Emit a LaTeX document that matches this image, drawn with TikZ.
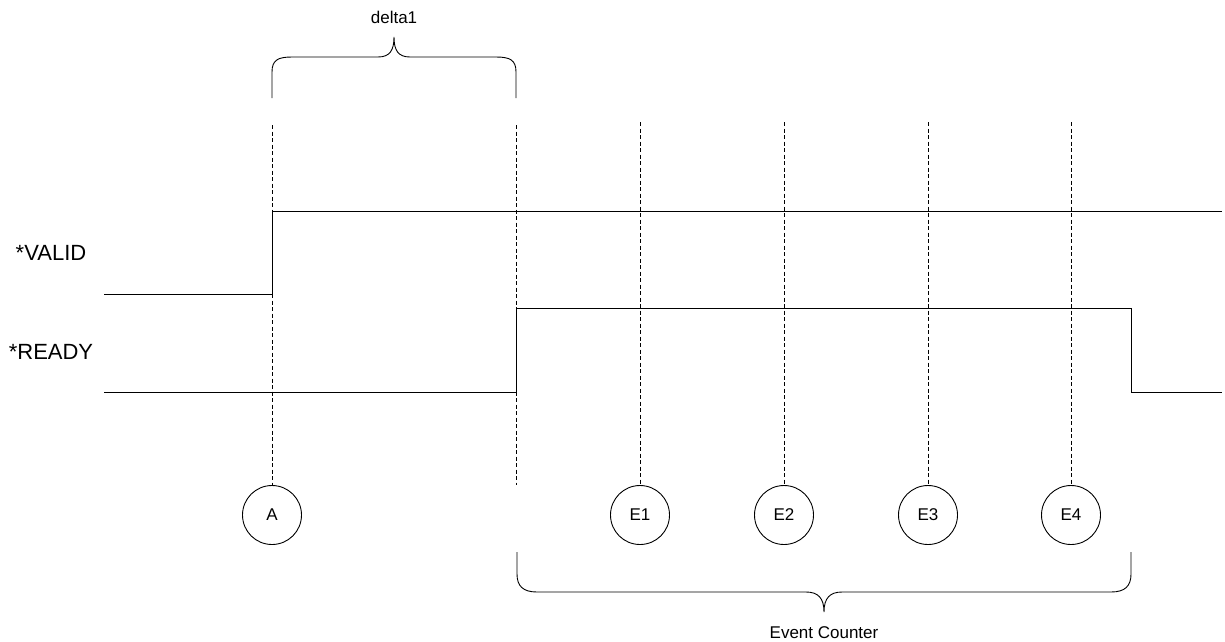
\documentclass[tikz,border=0pt]{standalone}
\usepackage{fontspec}
\setmainfont{Liberation Sans}

\begin{document}
\begin{tikzpicture}[x=1pt, y=-1pt, line width=0.9pt,
  event/.style={draw, circle, minimum size=59pt, inner sep=0pt, font=\fontsize{17}{20}\selectfont},
  sig/.style={font=\fontsize{22}{26}\selectfont},
  lbl/.style={font=\fontsize{17}{20}\selectfont},
  tick/.style={line width=0.8pt, dash pattern=on 4pt off 2.5pt}]
\useasboundingbox (0,0) rectangle (1225,641);

\node[sig] (valid) at (51,253) {*VALID};
\node[sig] (ready) at (51,352) {*READY};

\draw (104,294) -- (272,294) -- (272,211) -- (1222,211);
\draw (104,392) -- (516,392) -- (516,308) -- (1131,308) -- (1131,392) -- (1222,392);

\node[event] (A) at (272,515) {A};
\node[event] (E1) at (640,515) {E1};
\node[event] (E2) at (784,515) {E2};
\node[event] (E3) at (928,515) {E3};
\node[event] (E4) at (1071,515) {E4};

\coordinate (tA) at (272,125);
\coordinate (tR) at (516,125);
\coordinate (bR) at (516,485);
\coordinate (t1) at (640,122);
\coordinate (t2) at (784,122);
\coordinate (t3) at (928,122);
\coordinate (t4) at (1071,122);
\draw[tick] (tA) -- (A);
\draw[tick] (tR) -- (bR);
\draw[tick] (t1) -- (E1);
\draw[tick] (t2) -- (E2);
\draw[tick] (t3) -- (E3);
\draw[tick] (t4) -- (E4);

\draw (272,98) -- (272,72) .. controls (272,60) and (278,57) .. (292,57) -- (378,57) .. controls (390,57) and (394,50) .. (394,37) .. controls (394,50) and (398,57) .. (410,57) -- (496,57) .. controls (510,57) and (516,60) .. (516,72) -- (516,98);
\node[lbl] (delta) at (394,17) {delta1};

\draw (517,552) -- (517,574) .. controls (517,586) and (523,592) .. (537,592) -- (806,592) .. controls (818,592) and (824,598) .. (824,612) .. controls (824,598) and (830,592) .. (842,592) -- (1111,592) .. controls (1125,592) and (1131,586) .. (1131,574) -- (1131,552);
\node[lbl] (count) at (824,633) {Event Counter};

\end{tikzpicture}
\end{document}
